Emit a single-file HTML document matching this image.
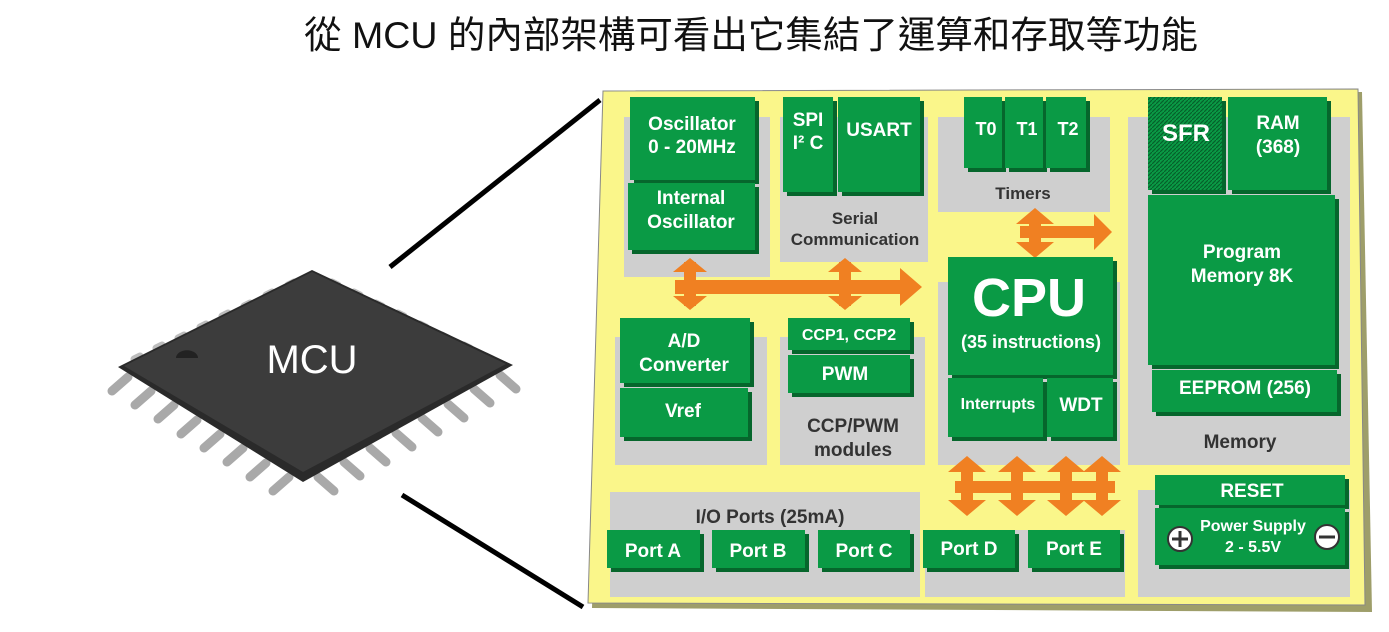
<!DOCTYPE html>
<html><head><meta charset="utf-8"><style>
body{margin:0;background:#fff;width:1389px;height:632px;overflow:hidden}
svg{position:absolute;left:0;top:0}
text{font-family:"Liberation Sans",sans-serif;font-weight:bold}
.w{fill:#fff;text-anchor:middle}
.d{fill:#333;text-anchor:middle}
</style></head><body>
<svg width="1389" height="632" viewBox="0 0 1389 632">
<defs>
<pattern id="h" width="4" height="4" patternUnits="userSpaceOnUse"><rect width="4" height="4" fill="#0a9a45"/><path d="M0 4L4 0" stroke="#05602a" stroke-width="1.2"/></pattern>
</defs>
<text x="751" y="48" style="font-family:'Liberation Sans','Noto Sans CJK TC',sans-serif;font-weight:normal;font-size:37.5px" fill="#111" text-anchor="middle">從 MCU 的內部架構可看出它集結了運算和存取等功能</text>
<!-- chip pins -->
<g stroke="#a9a9a9" stroke-width="9" stroke-linecap="round" fill="none">
<path d="M128 377l-16 14M151 391l-16 14M174 405l-16 14M197 420l-16 14M220 434l-16 14M243 448l-16 14M266 463l-16 14M289 477l-16 14"/>
<path d="M318 477l16 14M344 462l16 14M370 448l16 14M396 433l16 14M422 418l16 14M448 404l16 14M474 389l16 14M500 375l16 14"/>
</g>
<g stroke="#bdbdbd" stroke-width="7" stroke-linecap="round">
<path d="M140 356l-6 3M162 345l-6 3M184 335l-6 3M206 324l-6 3M228 313l-6 3M250 303l-6 3M272 292l-6 3M294 282l-6 3"/>
<path d="M332 282l6 3M354 292l6 3M376 303l6 3M398 313l6 3M420 324l6 3M442 335l6 3M464 345l6 3M486 356l6 3"/>
</g>
<polygon points="312,270 513,365 303,482 118,367" fill="#2a2a2a"/>
<polygon points="312,272 506,364 303,472 124,366" fill="#3c3c3c"/>
<path d="M176 358 a10 7 0 0 1 22 0 z" fill="#222"/>
<text x="312" y="373" fill="#fff" font-size="40" text-anchor="middle" style="font-weight:normal">MCU</text>
<line x1="390" y1="267" x2="600" y2="100" stroke="#000" stroke-width="5"/>
<line x1="402" y1="495" x2="583" y2="607" stroke="#000" stroke-width="5"/>
<!-- board -->
<polygon points="606,94 1362,92 1372,612 592,608" fill="#9e9e6a"/>
<polygon points="603,91 1358,89 1365,605 588,603" fill="#faf68a" stroke="#888" stroke-width="1"/>
<!-- gray panels -->
<g fill="#cfcfcf">
<rect x="624" y="117" width="146" height="160"/>
<rect x="780" y="117" width="148" height="145"/>
<rect x="938" y="117" width="172" height="95"/>
<rect x="1128" y="117" width="222" height="348"/>
<rect x="615" y="337" width="152" height="128"/>
<rect x="780" y="337" width="145" height="128"/>
<rect x="938" y="282" width="182" height="183"/>
<rect x="610" y="492" width="310" height="105"/>
<rect x="925" y="530" width="200" height="67"/>
<rect x="1138" y="490" width="212" height="107"/>
</g>
<!-- arrows -->
<g fill="#f08022">
<rect x="675" y="280" width="225" height="14"/>
<polygon points="900,268 922,287 900,306"/>
<rect x="684" y="262" width="12" height="44"/><polygon points="673,272 690,258 707,272"/><polygon points="673,296 690,310 707,296"/>
<rect x="839" y="262" width="12" height="44"/><polygon points="828,272 845,258 862,272"/><polygon points="828,296 845,310 862,296"/>
<rect x="1020" y="226" width="75" height="12"/><polygon points="1094,214 1112,232 1094,250"/>
<rect x="1029" y="215" width="12" height="34"/><polygon points="1016,224 1035,208 1054,224"/><polygon points="1016,242 1035,258 1054,242"/>
<rect x="955" y="481" width="160" height="12"/>
<g id="va"><rect x="961" y="466" width="12" height="40"/><polygon points="948,472 967,456 986,472"/><polygon points="948,500 967,516 986,500"/></g>
<use href="#va" x="50"/><use href="#va" x="99"/><use href="#va" x="135"/>
</g>
<!-- green blocks -->
<g fill="#06662c">
<rect x="634" y="101" width="125" height="83"/><rect x="632" y="187" width="127" height="67"/>
<rect x="787" y="101" width="50" height="95"/><rect x="842" y="101" width="82" height="95"/>
<rect x="968" y="101" width="38" height="71"/><rect x="1009" y="101" width="38" height="71"/><rect x="1050" y="101" width="40" height="71"/>
<rect x="1152" y="101" width="74" height="93"/><rect x="1232" y="101" width="99" height="93"/>
<rect x="1152" y="199" width="187" height="170"/><rect x="1156" y="374" width="185" height="42"/>
<rect x="952" y="261" width="165" height="118"/><rect x="952" y="382" width="95" height="59"/><rect x="1051" y="382" width="66" height="59"/>
<rect x="624" y="322" width="130" height="65"/><rect x="624" y="392" width="128" height="49"/>
<rect x="792" y="322" width="122" height="32"/><rect x="792" y="359" width="122" height="38"/>
<rect x="611" y="534" width="93" height="38"/><rect x="716" y="534" width="93" height="38"/><rect x="822" y="534" width="92" height="38"/><rect x="927" y="534" width="92" height="38"/><rect x="1032" y="534" width="92" height="38"/>
<rect x="1159" y="479" width="190" height="30"/><rect x="1159" y="512" width="190" height="57"/>
</g>
<g fill="#0a9a45">
<rect x="630" y="97" width="125" height="83"/><rect x="628" y="183" width="127" height="67"/>
<rect x="783" y="97" width="50" height="95"/><rect x="838" y="97" width="82" height="95"/>
<rect x="964" y="97" width="38" height="71"/><rect x="1005" y="97" width="38" height="71"/><rect x="1046" y="97" width="40" height="71"/>
<rect x="1148" y="97" width="74" height="93" fill="url(#h)"/><rect x="1228" y="97" width="99" height="93"/>
<rect x="1148" y="195" width="187" height="170"/><rect x="1152" y="370" width="185" height="42"/>
<rect x="948" y="257" width="165" height="118"/><rect x="948" y="378" width="95" height="59"/><rect x="1047" y="378" width="66" height="59"/>
<rect x="620" y="318" width="130" height="65"/><rect x="620" y="388" width="128" height="49"/>
<rect x="788" y="318" width="122" height="32"/><rect x="788" y="355" width="122" height="38"/>
<rect x="607" y="530" width="93" height="38"/><rect x="712" y="530" width="93" height="38"/><rect x="818" y="530" width="92" height="38"/><rect x="923" y="530" width="92" height="38"/><rect x="1028" y="530" width="92" height="38"/>
<rect x="1155" y="475" width="190" height="30"/><rect x="1155" y="508" width="190" height="57"/>
</g>
<!-- labels -->
<g class="w" font-size="19">
<text x="692" y="130" class="w">Oscillator</text><text x="692" y="153" class="w">0 - 20MHz</text>
<text x="691" y="204" class="w">Internal</text><text x="691" y="228" class="w">Oscillator</text>
<text x="808" y="126" class="w">SPI</text><text x="808" y="149" class="w">I² C</text>
<text x="879" y="136" class="w">USART</text>
<text x="986" y="135" class="w" font-size="18">T0</text><text x="1027" y="135" class="w" font-size="18">T1</text><text x="1068" y="135" class="w" font-size="18">T2</text>
<text x="1186" y="141" class="w" font-size="24">SFR</text>
<text x="1278" y="129" class="w">RAM</text><text x="1278" y="153" class="w">(368)</text>
<text x="1242" y="258" class="w">Program</text><text x="1242" y="282" class="w">Memory 8K</text>
<text x="1245" y="394" class="w">EEPROM (256)</text>
<text x="1029" y="316" class="w" font-size="54">CPU</text>
<text x="1031" y="348" class="w" font-size="18">(35 instructions)</text>
<text x="998" y="409" class="w" font-size="16">Interrupts</text><text x="1081" y="411" class="w">WDT</text>
<text x="684" y="347" class="w">A/D</text><text x="684" y="371" class="w">Converter</text>
<text x="683" y="417" class="w">Vref</text>
<text x="849" y="340" class="w" font-size="16">CCP1, CCP2</text>
<text x="845" y="380" class="w">PWM</text>
<text x="653" y="557" class="w">Port A</text><text x="758" y="557" class="w">Port B</text><text x="864" y="557" class="w">Port C</text><text x="969" y="555" class="w">Port D</text><text x="1074" y="555" class="w">Port E</text>
<text x="1252" y="497" class="w">RESET</text>
<text x="1253" y="531" class="w" font-size="16">Power Supply</text><text x="1253" y="552" class="w" font-size="16">2 - 5.5V</text>
</g>
<g fill="#fff" stroke="#333" stroke-width="2"><circle cx="1180" cy="539" r="12"/><circle cx="1327" cy="537" r="12"/></g>
<path d="M1172 539h16M1180 531v16M1319 537h16" stroke="#333" stroke-width="3"/>
<g font-size="17">
<text x="855" y="224" class="d">Serial</text><text x="855" y="245" class="d">Communication</text>
<text x="1023" y="199" class="d">Timers</text>
<text x="1240" y="448" class="d" font-size="19">Memory</text>
<text x="853" y="432" class="d" font-size="19">CCP/PWM</text><text x="853" y="456" class="d" font-size="19">modules</text>
<text x="770" y="523" class="d" font-size="19">I/O Ports (25mA)</text>
</g>
</svg>
</body></html>
